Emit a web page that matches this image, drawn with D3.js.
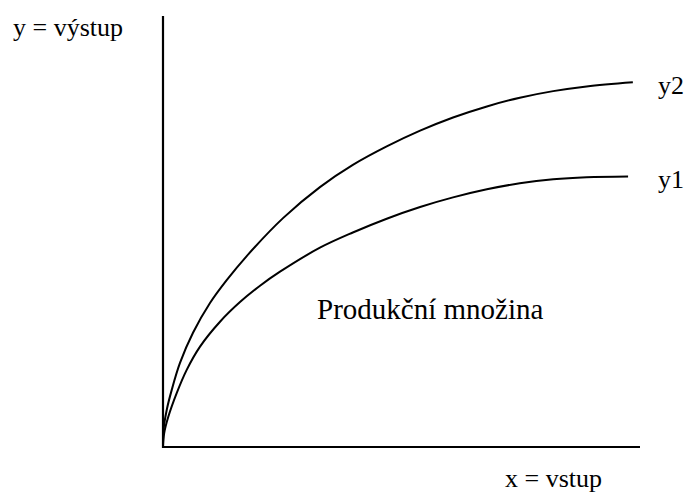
<!DOCTYPE html>
<html>
<head>
<meta charset="utf-8">
<script src="https://cdn.jsdelivr.net/npm/d3@7"></script>
<style>
  body { margin: 0; background: #fff; }
</style>
</head>
<body>
<svg id="chart" width="687" height="500"></svg>
<script>
// ----------
// values (both axes 0..100, no units)
var y2X = [0, 0.1, 0.78, 1.82, 3.56, 6.29, 9.85, 13.35, 17.55, 25.16, 32.9, 39.8, 46.9, 53.9, 60.8, 67.9, 74.8, 81.8, 88.8, 98.5];
var y2Y = [0, 3.9, 8.6, 13.2, 19.5, 26.5, 33.4, 38.7, 44.3, 53.1, 60.3, 65.45, 69.74, 73.39, 76.45, 79.02, 81.04, 82.57, 83.67, 84.64];

var y1X = [0, 0.25, 1.11, 2.87, 4.97, 7.76, 11.95, 16.14, 20.34, 24.53, 32.9, 39.8, 46.9, 53.9, 60.8, 67.9, 74.8, 81.8, 88.8, 97.5];
var y1Y = [0, 3.2, 7.0, 12.5, 17.9, 23.3, 29.07, 33.62, 37.42, 40.67, 46.24, 49.77, 52.97, 55.68, 57.91, 59.79, 61.18, 62.11, 62.58, 62.76];

var seriesNames = ['y2', 'y1'];
var xLabel = 'x = vstup';
var yLabel = 'y = výstup';
var areaLabel = 'Produkční množina';

// ----------
var serif = '"Liberation Serif", "Times New Roman", "DejaVu Serif", serif';
var svg = d3.select('#chart');

var x = d3.scaleLinear().domain([0, 100]).range([163, 640]);
var y = d3.scaleLinear().domain([0, 100]).range([447, 16]);

var line = d3.line()
  .x(function(d) { return x(d[0]); })
  .y(function(d) { return y(d[1]); })
  .curve(d3.curveCatmullRom.alpha(0.5));

function zip(xs, ys) {
  return xs.map(function(v, i) { return [v, ys[i]]; });
}

var series = [zip(y2X, y2Y), zip(y1X, y1Y)];

svg.selectAll('path.curve')
  .data(series)
  .enter().append('path')
  .attr('class', 'curve')
  .attr('d', line)
  .attr('fill', 'none')
  .attr('stroke', '#000')
  .attr('stroke-width', 2);

// axes: plain lines, no ticks
svg.append('line')
  .attr('x1', x(0)).attr('y1', y(0))
  .attr('x2', x(100)).attr('y2', y(0))
  .attr('stroke', '#000').attr('stroke-width', 2.2);

svg.append('line')
  .attr('x1', x(0)).attr('y1', y(0) + 1)
  .attr('x2', x(0)).attr('y2', y(100))
  .attr('stroke', '#000').attr('stroke-width', 2.2);

// ----------
// labels
function label(tx, ty, size, str) {
  return svg.append('text')
    .attr('x', tx)
    .attr('y', ty)
    .attr('font-family', serif)
    .attr('font-size', size)
    .attr('fill', '#000')
    .text(str);
}

label(13, 36, 26, yLabel);
label(505, 487, 26, xLabel);

var labelY = [94, 188];
seriesNames.forEach(function(d, i) {
  label(658, labelY[i], 26, d);
});

label(317, 319, 29, areaLabel);
</script>
</body>
</html>
